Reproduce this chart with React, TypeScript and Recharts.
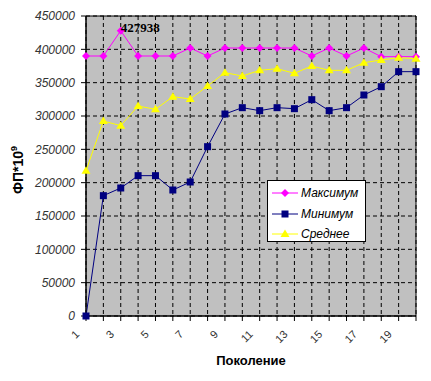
import { LineChart, Line, XAxis, YAxis, CartesianGrid, ReferenceArea } from "recharts"

// values
const generations = [1, 2, 3, 4, 5, 6, 7, 8, 9, 10, 11, 12, 13, 14, 15, 16, 17, 18, 19, 20]
const maxValues = [
  390000, 390000, 427938, 390000, 390000, 390000, 402000, 390000, 402000, 402000,
  402000, 402000, 402000, 390000, 402000, 390000, 402000, 389000, 389000, 389000,
]
const minValues = [
  0, 180500, 192000, 210500, 210500, 189000, 201000, 254000, 303000, 312500,
  308000, 312500, 311000, 324500, 308000, 312500, 331500, 344000, 366500, 366500,
]
const avgValues = [
  218000, 292500, 285500, 315000, 310000, 329000, 325500, 345000, 365000, 360000,
  368500, 371000, 364000, 375000, 368500, 368500, 380000, 384000, 387500, 386000,
]
const yTicks = [0, 50000, 100000, 150000, 200000, 250000, 300000, 350000, 400000, 450000]

const data = generations.map((gen, i) => ({
  gen,
  max: maxValues[i],
  min: minValues[i],
  avg: avgValues[i],
}))

const MAX_COLOR = "#FF00FF"
const MIN_COLOR = "#000080"
const AVG_COLOR = "#FFFF00"

const Diamond = ({ cx, cy }: any) => (
  <path d={`M${cx},${cy - 4}L${cx + 4},${cy}L${cx},${cy + 4}L${cx - 4},${cy}Z`} fill={MAX_COLOR} />
)

const Square = ({ cx, cy }: any) => (
  <rect x={cx - 3.5} y={cy - 3.5} width={7} height={7} fill={MIN_COLOR} />
)

const Triangle = ({ cx, cy }: any) => (
  <path d={`M${cx},${cy - 4.5}L${cx + 4.5},${cy + 3}L${cx - 4.5},${cy + 3}Z`} fill={AVG_COLOR} />
)

const XTick = ({ x, y, payload }: any) => {
  if (payload.value % 2 === 0) return null
  const tx = x - 6
  const ty = y + 14
  return (
    <text
      x={tx}
      y={ty}
      textAnchor="end"
      fontSize={11}
      fill="#333"
      transform={`rotate(-45, ${tx}, ${ty})`}
    >
      {payload.value}
    </text>
  )
}

const YTitle = () => (
  <text
    x={23}
    y={170}
    textAnchor="middle"
    fontSize={14}
    fontWeight="bold"
    fill="#000"
    transform="rotate(-90, 23, 170)"
  >
    ФП*10<tspan dy={-6} fontSize={9}>9</tspan>
  </text>
)

const MaxLabel = ({ x, y, index, value }: any) => {
  if (index !== 2) return null
  return (
    <text
      x={x}
      y={y + 1}
      fontFamily="'Liberation Serif', 'Times New Roman', serif"
      fontWeight="bold"
      fontSize={13}
      fill="#000"
    >
      {value}
    </text>
  )
}

const legendItems = [
  { name: "Максимум", color: MAX_COLOR, shape: "diamond" },
  { name: "Минимум", color: MIN_COLOR, shape: "square" },
  { name: "Среднее", color: AVG_COLOR, shape: "triangle" },
]

function LegendBox() {
  return (
    <div
      style={{
        position: "absolute",
        left: 267,
        top: 180,
        width: 99,
        height: 62,
        background: "#fff",
        border: "1px solid #000",
        boxSizing: "border-box",
      }}
    >
      {legendItems.map((item, i) => (
        <div
          key={item.name}
          style={{ position: "absolute", left: 3, top: 4 + i * 20.7, height: 16, display: "flex", alignItems: "center" }}
        >
          <svg width={28} height={16}>
            <line x1={1} y1={8} x2={27} y2={8} stroke={item.color} strokeWidth={1} />
            {item.shape === "diamond" && <path d="M14,4L18,8L14,12L10,8Z" fill={item.color} />}
            {item.shape === "square" && <rect x={10.5} y={4.5} width={7} height={7} fill={item.color} />}
            {item.shape === "triangle" && <path d="M14,3.5L18.5,11L9.5,11Z" fill={item.color} />}
          </svg>
          <span style={{ fontStyle: "italic", fontSize: 12, marginLeft: 2, color: "#000" }}>{item.name}</span>
        </div>
      ))}
    </div>
  )
}

export default function App() {
  return (
    <div
      style={{
        position: "absolute",
        left: 0,
        top: 0,
        width: 431,
        height: 381,
        background: "#fff",
        fontFamily: "'Liberation Sans', Arial, sans-serif",
      }}
    >
      <LineChart width={431} height={381} data={data} margin={{ top: 16, right: 15, bottom: 0, left: 0 }}>
        <CartesianGrid fill="#C0C0C0" fillOpacity={1} stroke="#000" strokeDasharray="4 3" />
        <XAxis
          dataKey="gen"
          type="number"
          domain={[1, 20]}
          ticks={generations}
          interval={0}
          height={65}
          tickSize={5}
          tickMargin={0}
          stroke="#000"
          tickLine={{ stroke: "#000" }}
          tick={<XTick />}
          label={{
            value: "Поколение",
            position: "insideBottom",
            offset: 16,
            fontSize: 13,
            fontWeight: "bold",
            fill: "#000",
          }}
        />
        <YAxis
          domain={[0, 450000]}
          ticks={yTicks}
          interval={0}
          width={86}
          tickSize={5}
          tickMargin={6}
          stroke="#000"
          tickLine={{ stroke: "#000" }}
          tick={{ fontSize: 12, fontStyle: "italic", fill: "#333" }}
          label={<YTitle />}
        />
        <ReferenceArea x1={1} x2={20} y1={0} y2={450000} fill="none" stroke="#000" strokeWidth={1} />
        <Line
          dataKey="max"
          stroke={MAX_COLOR}
          strokeWidth={1}
          dot={<Diamond />}
          activeDot={false}
          label={<MaxLabel />}
          isAnimationActive={false}
        />
        <Line
          dataKey="min"
          stroke={MIN_COLOR}
          strokeWidth={1}
          dot={<Square />}
          activeDot={false}
          isAnimationActive={false}
        />
        <Line
          dataKey="avg"
          stroke={AVG_COLOR}
          strokeWidth={1}
          dot={<Triangle />}
          activeDot={false}
          isAnimationActive={false}
        />
      </LineChart>
      <LegendBox />
    </div>
  )
}
